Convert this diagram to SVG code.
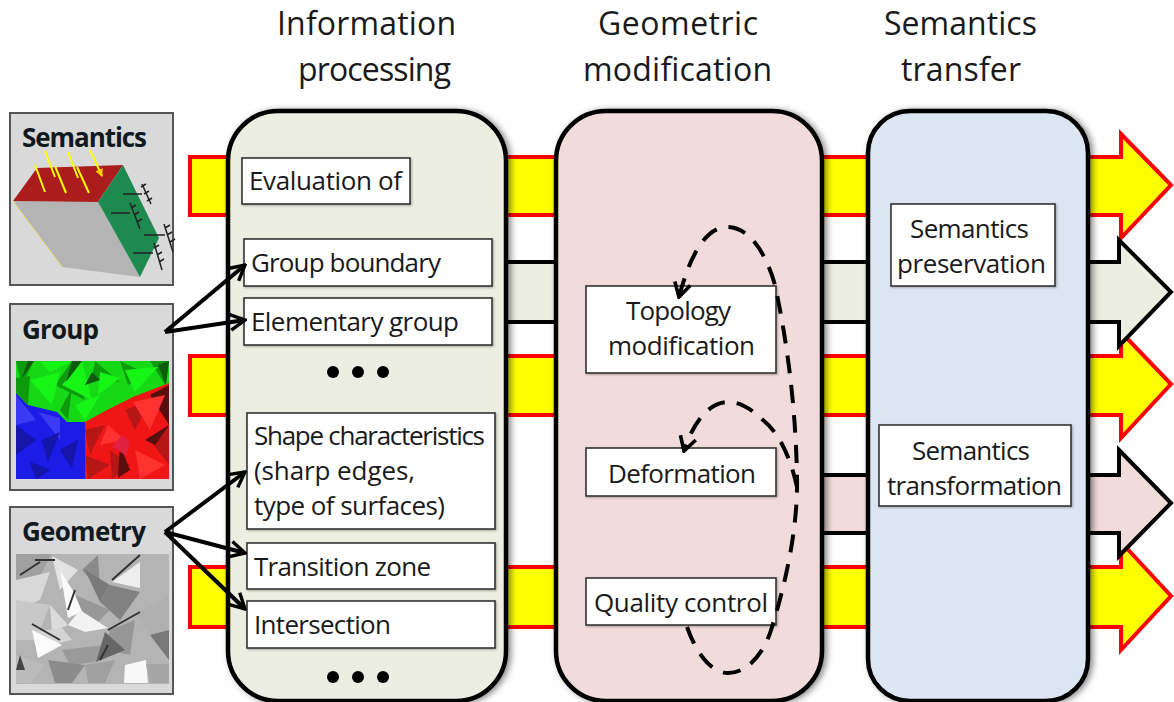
<svg xmlns="http://www.w3.org/2000/svg" width="1174" height="702" viewBox="0 0 1174 702">
<style>
text{font-family:"Open Sans","Noto Sans","Liberation Sans",sans-serif;fill:#1a1a1a;font-size:26px}
.title{font-size:32px}
.bold{font-weight:700;font-size:26px;fill:#101820}
.panel{stroke:#000;stroke-width:4.5;filter:url(#sh)}
.box{fill:#fff;stroke:#333;stroke-width:1.6;filter:url(#sh2)}
.thumb{fill:#d9d9d9;stroke:#555;stroke-width:2}
.y{fill:#ff0;stroke:#f00;stroke-width:4;stroke-miterlimit:8}
.b{stroke:#000;stroke-width:4;stroke-miterlimit:8}
.c{fill:none;stroke:#000;stroke-width:4;marker-end:url(#v)}
.d{fill:none;stroke:#000;stroke-width:4;stroke-dasharray:18 12;marker-end:url(#v2)}
.dot{fill:#000}
.ya{stroke:#ff0;stroke-width:2;marker-end:url(#ya)}
.h{stroke:#222;stroke-width:1.5;fill:none}
</style>
<defs>
<filter id="sh" x="-5%" y="-5%" width="112%" height="110%"><feDropShadow dx="3" dy="1" stdDeviation="3" flood-color="#000" flood-opacity=".45"/></filter>
<filter id="sh2" x="-5%" y="-5%" width="112%" height="115%"><feDropShadow dx="1" dy="1" stdDeviation="1" flood-color="#000" flood-opacity=".3"/></filter>
<filter id="bl"><feGaussianBlur stdDeviation=".5"/></filter>
<marker id="v" markerUnits="userSpaceOnUse" viewBox="0 0 20 20" refX="18" refY="10" markerWidth="20" markerHeight="20" orient="auto"><path d="M3 2L18 10L3 18" fill="none" stroke="#000" stroke-width="3.4"/></marker>
<marker id="v2" markerUnits="userSpaceOnUse" viewBox="0 0 20 20" refX="18" refY="10" markerWidth="20" markerHeight="20" orient="auto"><path d="M4 2L18 10L4 18" fill="none" stroke="#000" stroke-width="3.6"/></marker>
<marker id="ya" markerUnits="userSpaceOnUse" viewBox="0 0 8 8" refX="7" refY="4" markerWidth="8" markerHeight="8" orient="auto"><path d="M0 0L8 4L0 8z" fill="#fc0"/></marker>
</defs>
<g id="flow-arrows">
<path class="y" d="M190 157H1121V134L1171 185L1121 238V215H190z"/>
<path class="y" d="M190 356H1121V332L1171 384L1121 438V415H190z"/>
<path class="y" d="M190 567H1121V542L1171 596L1121 650V627H190z"/>
<path class="b" fill="#ebeee0" d="M500 262H1119V240L1171 292L1119 346V322H500z"/>
<path class="b" fill="#f2dcdb" d="M815 475H1119V450L1171 503L1119 556V533H815z"/>
</g>
<g id="panel-information"><rect class="panel" x="228" y="111" width="278" height="590" rx="50" fill="#ebeee0"/></g>
<g id="panel-geometric"><rect class="panel" x="556" y="111" width="266" height="590" rx="50" fill="#f2dcdb"/></g>
<g id="panel-semantics"><rect class="panel" x="868" y="111" width="220" height="590" rx="42" fill="#dce6f2"/></g>
<g id="titles">
<text class="title" x="277" y="35" textLength="179">Information</text>
<text class="title" x="298" y="81" textLength="153">processing</text>
<text class="title" x="598" y="35" textLength="160">Geometric</text>
<text class="title" x="583" y="81" textLength="189">modification</text>
<text class="title" x="884" y="35" textLength="153">Semantics</text>
<text class="title" x="901" y="81" textLength="120">transfer</text>
</g>
<g id="node-semantics">
<rect class="thumb" x="10" y="113" width="163" height="172"/>
<polygon points="13,201 98,202 140,277 62,267" fill="#b4b4b4"/>
<polygon points="13,201 37,168 123,165 98,202" fill="#ab1c1c"/>
<polygon points="123,165 98,202 140,277 159,238" fill="#1f8a50"/>
<path d="M13 201L62 267" stroke="#e8e070" stroke-width="1" fill="none"/>
<path class="h" d="M123 194H142M142 184L151 204M141 187l5-3M144 194l5-3M147 201l5-3M111 213H130M130 203L140 229M131 208l5-3M134 215l5-3M137 222l5-3M144 235H165M164 224L173 252M165 228l5-3M167 235l5-3M170 242l5-3M133 253H153M154 243L162 270M154 248l5-3M157 255l5-3M159 262l5-3"/>
<path class="ya" d="M35 165L45 192M45 151L55 177M55 166L66 193M68 152L78 178M77 167L89 193M90 150L102 176"/>
<text class="bold" x="22" y="147" textLength="125">Semantics</text>
</g>
<g id="node-group">
<rect class="thumb" x="10" y="304" width="163" height="186"/>
<g filter="url(#bl)">
<rect x="16" y="361" width="153" height="118" fill="#17d917"/>
<polygon points="16,393 28,405 57,412 67,422 85,422 85,479 16,479" fill="#1a1ae6"/>
<polygon points="85,422 107,410 133,397 169,383 169,479 85,479" fill="#f01818"/>
<g fill="#0e9a0e"><polygon points="16,361 34,361 22,385"/><polygon points="16,378 30,376 28,405 16,393"/><polygon points="55,385 72,361 85,400"/><polygon points="60,410 72,388 68,420"/><polygon points="95,361 120,382 92,378"/><polygon points="120,361 150,375 128,385"/><polygon points="150,361 169,361 165,385"/></g>
<g fill="#19f519"><polygon points="30,380 60,372 52,405"/><polygon points="62,385 82,362 92,400"/><polygon points="75,405 100,395 85,420"/><polygon points="125,370 158,367 135,392"/><polygon points="100,372 120,378 98,395"/><polygon points="40,362 72,361 50,372"/></g>
<g fill="#0a5a0a"><polygon points="28,361 34,361 22,378"/><polygon points="72,361 82,361 66,382"/><polygon points="158,365 169,361 166,385"/><polygon points="92,372 100,380 85,385"/></g>
<g fill="#3a3af5"><polygon points="16,395 36,420 16,425"/><polygon points="38,412 60,418 60,440"/></g>
<g fill="#1212a8"><polygon points="16,425 36,440 16,455"/><polygon points="42,440 60,432 48,462"/><polygon points="60,450 78,440 72,468"/><polygon points="30,462 50,470 36,479"/></g>
<g fill="#b51212"><polygon points="85,430 105,425 90,455"/><polygon points="125,410 150,400 135,430"/><polygon points="85,455 110,465 88,479"/><polygon points="150,440 169,425 169,465"/><polygon points="110,450 130,465 112,479"/></g>
<g fill="#5a0c0c"><polygon points="150,395 169,385 169,425"/><polygon points="120,445 130,470 118,478"/><polygon points="145,440 169,425 155,445"/></g>
<g fill="#ff3030"><polygon points="133,402 165,395 150,430"/><polygon points="135,450 165,465 140,479"/><polygon points="108,425 125,440 100,445"/></g>
<polygon points="122,435 130,442 127,456 112,447" fill="#e02040"/>
</g>
<text class="bold" x="22" y="339" textLength="77">Group</text>
</g>
<g id="node-geometry">
<rect class="thumb" x="10" y="507" width="163" height="187"/>
<g filter="url(#bl)">
<rect x="16" y="554" width="153" height="130" fill="#b4b4b4"/>
<polygon points="16,554 52,554 40,575 16,590" fill="#a0a0a0"/>
<polygon points="52,556 78,570 60,590" fill="#e2e2e2"/>
<polygon points="60,570 85,610 68,618" fill="#fafafa"/>
<polygon points="16,580 50,572 40,600 16,610" fill="#d8d8d8"/>
<polygon points="82,570 98,555 100,590" fill="#8a8a8a"/>
<polygon points="85,570 110,585 100,602" fill="#7a7a7a"/>
<polygon points="112,582 140,562 140,588" fill="#eee"/>
<polygon points="140,560 169,565 160,595 140,590" fill="#b4b4b4"/>
<polygon points="110,585 140,592 120,620 100,602" fill="#828282"/>
<polygon points="75,595 110,610 90,630" fill="#989898"/>
<polygon points="80,610 108,628 85,632 68,625" fill="#f2f2f2"/>
<polygon points="16,600 50,605 36,640 16,640" fill="#c8c8c8"/>
<polygon points="50,605 68,625 52,632" fill="#dcdcdc"/>
<polygon points="32,632 62,628 72,640 50,645" fill="#d4d4d4"/>
<polygon points="110,630 135,620 130,655 105,650" fill="#969696"/>
<polygon points="135,615 169,595 169,630 150,635" fill="#b0b0b0"/>
<polygon points="150,635 169,630 169,660" fill="#787878"/>
<polygon points="32,630 62,645 38,658" fill="#fbfbfb"/>
<polygon points="62,650 105,645 95,662 70,665" fill="#9a9a9a"/>
<polygon points="105,632 125,650 96,662" fill="#666"/>
<polygon points="125,665 146,660 148,683 124,683" fill="#f8f8f8"/>
<polygon points="16,655 45,665 30,683 16,683" fill="#bbb"/>
<polygon points="48,660 85,665 72,683 55,683" fill="#8c8c8c"/>
<polygon points="85,665 115,660 105,683 88,683" fill="#a0a0a0"/>
<polygon points="146,664 169,664 169,683 150,683" fill="#a6a6a6"/>
<polygon points="20,655 25,670 16,670" fill="#444"/>
<path d="M108 630L140 612M75 590L68 610M32 624L60 640M112 580L140 555M20 575L40 562M108 645L100 660M35 560L55 560" stroke="#333" stroke-width="2" fill="none"/>
</g>
<text class="bold" x="22" y="541" textLength="124">Geometry</text>
</g>
<g id="box-evaluation"><rect class="box" x="242" y="158" width="168" height="46"/><text x="249" y="190" textLength="153">Evaluation of</text></g>
<g id="box-group-boundary"><rect class="box" x="244" y="239" width="248" height="47"/><text x="251" y="272" textLength="190">Group boundary</text></g>
<g id="box-elementary"><rect class="box" x="244" y="298" width="248" height="47"/><text x="251" y="331" textLength="208">Elementary group</text></g>
<g id="box-shape"><rect class="box" x="247" y="413" width="248" height="116"/><text x="254" y="445" textLength="231">Shape characteristics</text><text x="254" y="480" textLength="161">(sharp edges,</text><text x="254" y="515" textLength="191">type of surfaces)</text></g>
<g id="box-transition"><rect class="box" x="247" y="543" width="248" height="46"/><text x="254" y="576" textLength="177">Transition zone</text></g>
<g id="box-intersection"><rect class="box" x="247" y="601" width="248" height="47"/><text x="254" y="634" textLength="137">Intersection</text></g>
<g id="ellipsis">
<circle class="dot" cx="333" cy="372" r="6"/><circle class="dot" cx="358" cy="372" r="6"/><circle class="dot" cx="383" cy="372" r="6"/>
<circle class="dot" cx="333" cy="677" r="6"/><circle class="dot" cx="358" cy="677" r="6"/><circle class="dot" cx="383" cy="677" r="6"/>
</g>
<g id="box-topology"><rect class="box" x="586" y="286" width="190" height="87"/><text x="626" y="320" textLength="105">Topology</text><text x="608" y="355" textLength="147">modification</text></g>
<g id="box-deformation"><rect class="box" x="586" y="448" width="190" height="48"/><text x="608" y="483" textLength="148">Deformation</text></g>
<g id="box-quality"><rect class="box" x="586" y="578" width="190" height="47"/><text x="594" y="612" textLength="174">Quality control</text></g>
<g id="box-preservation"><rect class="box" x="891" y="204" width="164" height="82"/><text x="910" y="238" textLength="119">Semantics</text><text x="897" y="273" textLength="149">preservation</text></g>
<g id="box-transformation"><rect class="box" x="879" y="425" width="192" height="81"/><text x="912" y="460" textLength="118">Semantics</text><text x="887" y="495" textLength="175">transformation</text></g>
<g id="connectors">
<path class="c" d="M165 332L245 265"/>
<path class="c" d="M165 332L245 320"/>
<path class="c" d="M165 532L245 472"/>
<path class="c" d="M165 532L245 553"/>
<path class="c" d="M165 532L245 609"/>
<path class="d" d="M687 627C697 655 712 673 728 673C748 673 765 652 772 627C785 585 798 530 797 477C796 420 790 355 775 285C765 250 748 227 727 227C706 227 690 255 679 297"/>
<path class="d" d="M797 487C790 455 778 432 763 420C750 408 740 402 728 402C708 402 692 425 684 451"/>
</g>
</svg>
